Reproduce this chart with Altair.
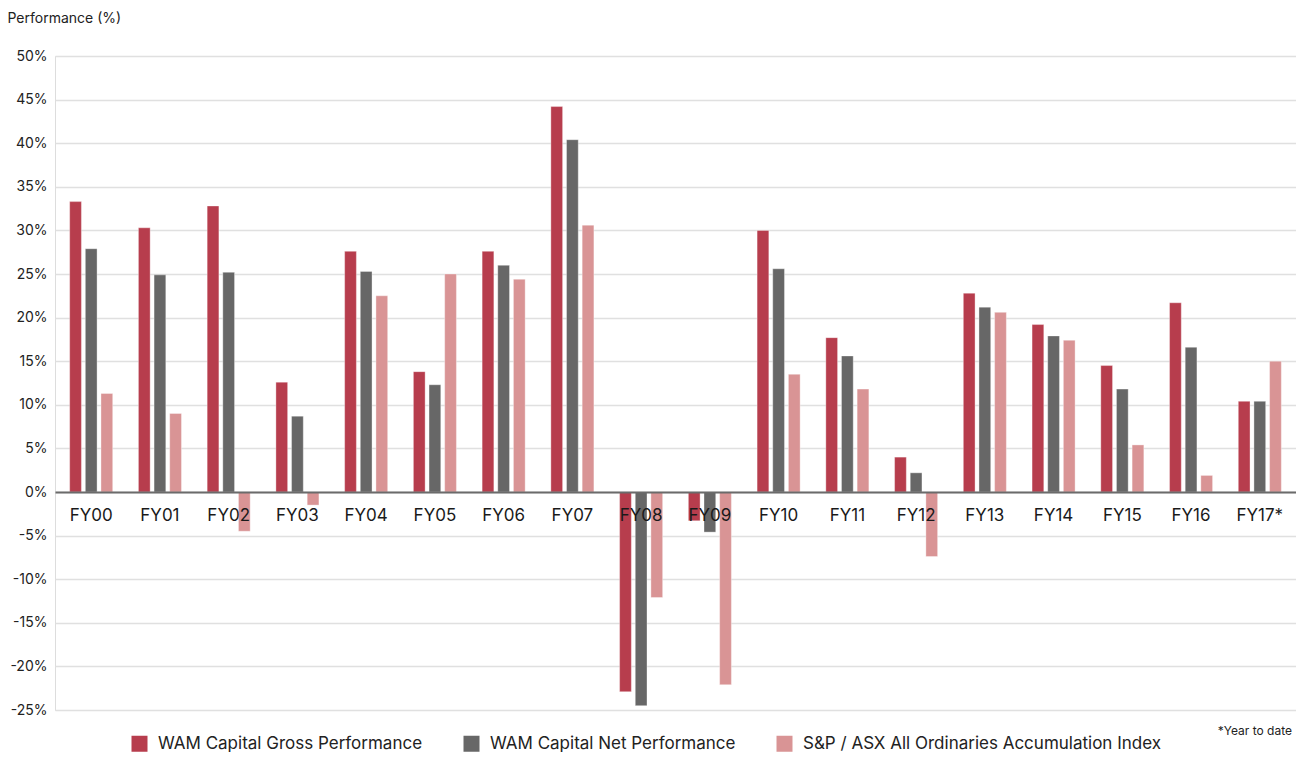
import altair as alt
import pandas as pd

years = ["FY00", "FY01", "FY02", "FY03", "FY04", "FY05", "FY06", "FY07", "FY08",
         "FY09", "FY10", "FY11", "FY12", "FY13", "FY14", "FY15", "FY16", "FY17*"]
gross = [33.3, 30.3, 32.8, 12.6, 27.6, 13.8, 27.6, 44.2, -22.9,
         -3.3, 30.0, 17.7, 4.0, 22.8, 19.2, 14.5, 21.7, 10.4]
net = [27.9, 24.9, 25.2, 8.7, 25.3, 12.3, 26.0, 40.4, -24.5,
       -4.6, 25.6, 15.6, 2.2, 21.2, 17.9, 11.8, 16.6, 10.4]
index = [11.3, 9.0, -4.5, -1.5, 22.5, 25.0, 24.4, 30.6, -12.1,
         -22.1, 13.5, 11.8, -7.4, 20.6, 17.4, 5.4, 1.9, 15.0]
series_names = ["WAM Capital Gross Performance", "WAM Capital Net Performance",
                "S&P / ASX All Ordinaries Accumulation Index"]
colors = ["#B73D4D", "#676767", "#D99495"]

rows = []
for i, y in enumerate(years):
    for s, vals in zip(series_names, [gross, net, index]):
        rows.append({"year": y, "series": s, "value": vals[i]})
df = pd.DataFrame(rows)

FONT = "Inter"

bars = alt.Chart(df).mark_bar(stroke="#ffffff", strokeOpacity=0.35, strokeWidth=1).encode(
    x=alt.X("year:N", sort=years,
            scale=alt.Scale(paddingInner=0.374, paddingOuter=0.2135),
            axis=alt.Axis(title=None, orient="bottom", offset=-218, zindex=1,
                          domain=True, domainColor="#6b6b6b", domainWidth=2,
                          ticks=False, labelAngle=0, labelFontSize=17,
                          labelColor="#1a1a1a", labelPadding=15, labelFont=FONT)),
    xOffset=alt.XOffset("series:N", sort=series_names,
                        scale=alt.Scale(paddingInner=0.25, paddingOuter=0)),
    y=alt.Y("value:Q", scale=alt.Scale(domain=[-25, 50], nice=False, zero=False),
            axis=alt.Axis(title="Performance (%)", titleAngle=0, titleAlign="left",
                          titleBaseline="middle", titleX=-48, titleY=-38,
                          titleFontSize=14, titleFontWeight="normal", titleColor="#222222",
                          titleFont=FONT,
                          values=list(range(-25, 51, 5)), labelExpr="datum.value + '%'",
                          labelFontSize=14, labelColor="#222222", labelPadding=8, labelFont=FONT,
                          domain=False, ticks=False, grid=True, gridColor="#e0e0e0",
                          gridWidth=1.5, zindex=0)),
    color=alt.Color("series:N", sort=series_names,
                    scale=alt.Scale(domain=series_names, range=colors),
                    legend=alt.Legend(title=None, orient="none", direction="horizontal",
                                      legendX=76, legendY=679, symbolType="square",
                                      symbolSize=256, symbolStrokeWidth=0, symbolOpacity=1,
                                      labelFontSize=17, labelColor="#222222", labelFont=FONT,
                                      labelOffset=10, columnPadding=40, padding=0,
                                      labelLimit=500)),
)

note = alt.Chart(pd.DataFrame({"t": ["*Year to date"]})).mark_text(
    align="right", baseline="middle", fontSize=12, color="#222222", font=FONT
).encode(text="t:N", x=alt.value(1237), y=alt.value(675))

chart = alt.layer(bars, note).properties(
    width=1241, height=654,
    padding={"left": 47, "top": 48, "right": 0, "bottom": 42},
    autosize=alt.AutoSizeParams(type="none"),
).configure_view(stroke=None).configure(font=FONT)

chart.save("out.html", embed_options={"renderer": "svg", "actions": False})
